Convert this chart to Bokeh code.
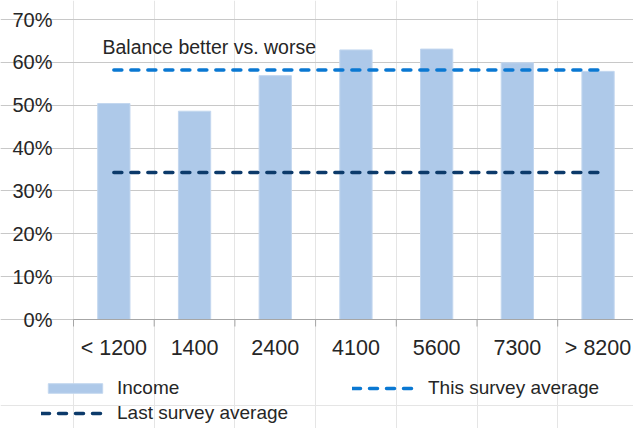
import math
from bokeh.plotting import figure
from bokeh.core.properties import value
from bokeh.models import (Range1d, FixedTicker, Legend, LegendItem, Label, Grid,
                          ColumnDataSource)
from bokeh.embed import file_html
from bokeh.resources import INLINE

# ---- data ----
categories = ["< 1200", "1400", "2400", "4100", "5600", "7300", "> 8200"]
income = [0.504, 0.486, 0.569, 0.629, 0.631, 0.599, 0.579]
this_survey_avg = 0.582
last_survey_avg = 0.343
y_ticks = [0.0, 0.1, 0.2, 0.3, 0.4, 0.5, 0.6, 0.7]
y_tick_labels = ["0%", "10%", "20%", "30%", "40%", "50%", "60%", "70%"]
title_text = "Balance better vs. worse"
legend_labels = ["Income", "This survey average", "Last survey average"]

# ---- style / layout ----
FONT = "Liberation Sans"
TXT = "#262626"
BAR_FILL = "#aec9e9"
BAR_LINE = "#c3d7ef"
THIS_COL = "#0a78d2"
LAST_COL = "#0c3a6a"
GRID_COL = "#c8c8c8"
AXIS_COL = "#a6a6a6"
DASH = "8 9"

W, H = 633, 428
FRAME_L, FRAME_T, FRAME_B = 73, 19, 319      # plot area in screen px
UNIT_X = 80.7                                # px per category
PX_PER_Y = (FRAME_B - FRAME_T) / y_ticks[-1]

centers = [i + 0.5 for i in range(len(categories))]
bounds = list(range(len(categories) + 1))

x_start = -FRAME_L / UNIT_X
x_end = (W - FRAME_L) / UNIT_X
y_start = -(H - FRAME_B) / PX_PER_Y
y_end = y_ticks[-1] + FRAME_T / PX_PER_Y

p = figure(width=W, height=H, output_backend="svg", toolbar_location=None,
           x_range=Range1d(x_start, x_end), y_range=Range1d(y_start, y_end),
           x_axis_location=None, y_axis_location=None,
           min_border=0, min_border_left=0, min_border_right=0,
           min_border_top=0, min_border_bottom=0)
p.outline_line_color = None

# horizontal grid lines only across the plot area
p.add_layout(Grid(dimension=1, ticker=FixedTicker(ticks=y_ticks),
                  bounds=(bounds[0], x_end), grid_line_color=GRID_COL,
                  grid_line_width=1))

# bars
src = ColumnDataSource(dict(x=centers, top=income, cat=categories))
bars = p.vbar(x="x", top="top", width=0.4, bottom=0, source=src,
              fill_color=BAR_FILL, line_color=BAR_LINE, line_width=1)

# x axis line + tick marks at category boundaries
p.segment(x0=[bounds[0]], y0=[0], x1=[x_end], y1=[0], line_color=AXIS_COL, line_width=1)
p.ray(x=bounds, y=[0] * len(bounds), length=7, length_units="screen",
      angle=-math.pi / 2, line_color=AXIS_COL, line_width=1)

# category labels
p.text(x=centers, y=[0] * len(centers), text=categories, y_offset=28,
       text_align="center", text_baseline="middle", text_font=value(FONT),
       text_font_size=value("21.5px"), text_color=TXT)

# y tick labels
p.text(x=[bounds[0]] * len(y_ticks), y=y_ticks, text=y_tick_labels, x_offset=-21,
       text_align="right", text_baseline="middle", text_font=value(FONT),
       text_font_size=value("20px"), text_color=TXT)

# average lines
this_line = p.line(x=[centers[0], centers[-1]], y=[this_survey_avg, this_survey_avg],
                   line_color=THIS_COL, line_width=3.5, line_dash=DASH, line_cap="round")
last_line = p.line(x=[centers[0], centers[-1]], y=[last_survey_avg, last_survey_avg],
                   line_color=LAST_COL, line_width=3.5, line_dash=DASH, line_cap="round")

# title
p.add_layout(Label(x=102, y=H - 46, x_units="screen", y_units="screen", text=title_text,
                   text_font=FONT, text_font_size="19.5px", text_color=TXT,
                   text_baseline="alphabetic"))

lg = Legend(items=[LegendItem(label=legend_labels[0], renderers=[bars]),
                   LegendItem(label=legend_labels[1], renderers=[this_line]),
                   LegendItem(label=legend_labels[2], renderers=[last_line])],
            location=(41, 4), orientation="horizontal", ncols=2,
            glyph_width=68, glyph_height=12, label_standoff=8,
            padding=0, margin=0, spacing=3, border_line_color=None,
            background_fill_alpha=0, label_text_font=FONT,
            label_text_font_size="19px", label_text_color=TXT,
            label_height=22, label_width=232)
p.add_layout(lg)

open("out.html", "w").write(file_html(p, INLINE))
